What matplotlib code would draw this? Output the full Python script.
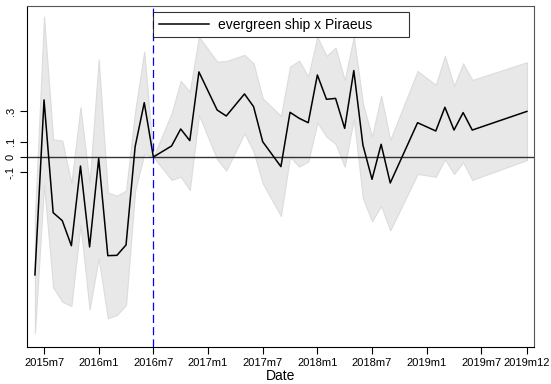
import matplotlib
matplotlib.use('Agg')
import matplotlib.pyplot as plt

plt.rcParams['font.family'] = ['Liberation Sans', 'DejaVu Sans']

# event study estimates (Stata-style monthly dates)
months = ['2015m6', '2015m7', '2015m8', '2015m9', '2015m10', '2015m11', '2015m12',
          '2016m1', '2016m2', '2016m3', '2016m4', '2016m5', '2016m6', '2016m7',
          '2016m9', '2016m10', '2016m11', '2016m12', '2017m2', '2017m3', '2017m5',
          '2017m6', '2017m7', '2017m9', '2017m10', '2017m11', '2017m12', '2018m1',
          '2018m2', '2018m3', '2018m4', '2018m5', '2018m6', '2018m7', '2018m8',
          '2018m9', '2018m12', '2019m2', '2019m3', '2019m4', '2019m5', '2019m6',
          '2019m12']
coef = [-0.771, 0.373, -0.364, -0.416, -0.580, -0.059, -0.588,
        -0.009, -0.645, -0.643, -0.575, 0.068, 0.355, 0.0,
        0.072, 0.183, 0.107, 0.556, 0.307, 0.268, 0.412,
        0.329, 0.100, -0.063, 0.292, 0.253, 0.224, 0.536,
        0.377, 0.383, 0.187, 0.565, 0.078, -0.146, 0.083,
        -0.170, 0.224, 0.170, 0.325, 0.176, 0.290, 0.176,
        0.298]
ci_lo = [-1.15, -0.183, -0.852, -0.946, -0.974, -0.444, -0.996,
         -0.662, -1.054, -1.033, -0.967, -0.22, 0.02, 0.0,
         -0.150, -0.129, -0.216, 0.275, -0.015, -0.089, 0.155,
         0.035, -0.172, -0.386, 0.002, -0.063, -0.030, 0.225,
         0.133, 0.085, -0.063, 0.25, -0.27, -0.42, -0.32,
         -0.48, -0.111, -0.129, -0.015, -0.111, -0.035, -0.150,
         -0.020]
ci_hi = [-0.40, 0.917, 0.115, 0.107, -0.172, 0.325, -0.172,
         0.638, -0.233, -0.253, -0.220, 0.30, 0.69, 0.0,
         0.285, 0.497, 0.427, 0.786, 0.623, 0.627, 0.667,
         0.612, 0.383, 0.268, 0.590, 0.630, 0.525, 0.786,
         0.660, 0.715, 0.503, 0.786, 0.35, 0.133, 0.40,
         0.111, 0.562, 0.471, 0.660, 0.464, 0.612, 0.503,
         0.619]

tick_months = ['2015m7', '2016m1', '2016m7', '2017m1', '2017m7', '2018m1',
               '2018m7', '2019m1', '2019m7', '2019m12']
ytick_vals = [-0.1, 0, 0.1, 0.3]
ytick_labels = ['-.1', '0', '.1', '.3']
event_month = '2016m7'


def to_idx(s):
    # months since 2015m7
    y, m = s.split('m')
    return (int(y) - 2015) * 12 + int(m) - 7


x = [to_idx(s) for s in months]

fig = plt.figure(figsize=(5.51, 3.84), dpi=100)
ax = fig.add_axes([0.049, 0.0964, 0.920, 0.888])

ax.fill_between(x, ci_lo, ci_hi, color='#e8e8e8', edgecolor='#dcdcdc', lw=0.8, zorder=1)
ax.axhline(0, color='#333333', lw=1.0, zorder=2)
ax.axvline(to_idx(event_month), color='#0000ff', lw=0.9, ls=(0, (6.5, 3.3)), zorder=3)
ax.plot(x, coef, color='black', lw=1.1, zorder=4, label='evergreen ship x Piraeus')

ax.set_xlim(-1.87, 53.77)
ax.set_ylim(-1.242, 0.987)

ax.set_xticks([to_idx(s) for s in tick_months])
ax.set_xticklabels(tick_months, fontsize=8)
ax.set_yticks(ytick_vals)
ax.set_yticklabels(ytick_labels, fontsize=8, rotation=90, va='center')
ax.tick_params(direction='out', length=5, width=0.8, pad=3)
ax.set_xlabel('Date', fontsize=10, labelpad=1)

for side in ['left', 'bottom']:
    ax.spines[side].set_color('black')
for side in ['top', 'right']:
    ax.spines[side].set_color('#555555')

leg = ax.legend(loc='upper left', bbox_to_anchor=(0.249, 0.91, 0.505, 0.072),
                mode='expand', fontsize=10, frameon=True, fancybox=False,
                handlelength=3.6, borderpad=0.4, handletextpad=0.7,
                borderaxespad=0)
leg.get_frame().set_edgecolor('black')
leg.get_frame().set_linewidth(0.8)
leg.set_zorder(5)

fig.savefig('out.png', dpi=100)
